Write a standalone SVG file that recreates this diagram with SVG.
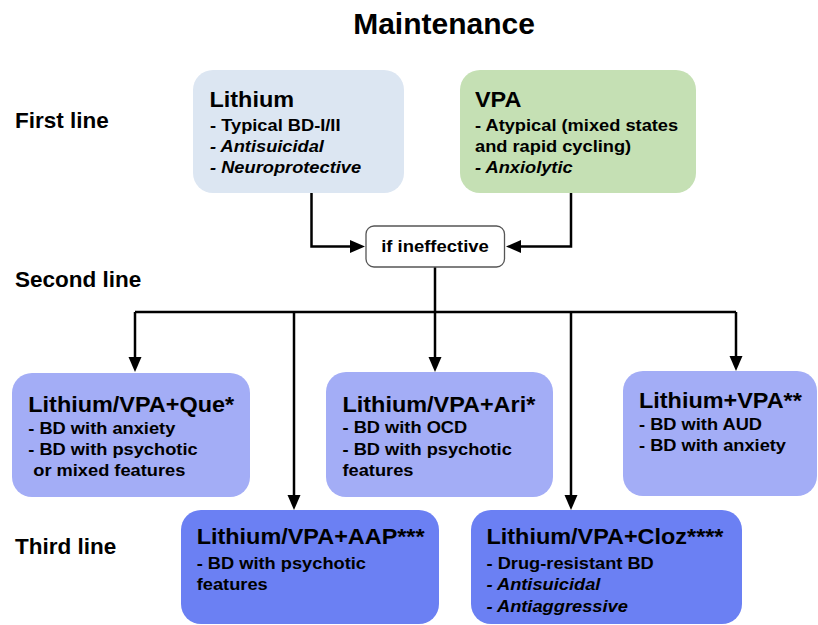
<svg xmlns="http://www.w3.org/2000/svg" width="818" height="625" viewBox="0 0 818 625">
<style>
text{font-family:"Liberation Sans",Arial,sans-serif;font-weight:bold;fill:#000}
.title{font-size:30px}
.side{font-size:22.5px}
.h{font-size:21.3px}
.b{font-size:16.6px}
.i{font-style:italic}
.conn{fill:none;stroke:#000;stroke-width:2.5}
.first1{fill:#dce6f2}
.first2{fill:#c5e0b4}
.second{fill:#a3adf6}
.third{fill:#6b80f3}
</style>
<defs>
<marker id="arr" markerUnits="userSpaceOnUse" markerWidth="16" markerHeight="14" refX="7" refY="6.5" orient="auto">
<path d="M0,0 L15,6.5 L0,13 Z" fill="#000"/>
</marker>
</defs>
<rect width="818" height="625" fill="#fff"/>
<text class="title" x="444" y="34" text-anchor="middle">Maintenance</text>
<g id="labels">
<text class="side" x="15" y="128">First line</text>
<text class="side" x="15" y="287">Second line</text>
<text class="side" x="15" y="554">Third line</text>
</g>
<g id="connectors">
<path class="conn" d="M311.5,193 V246.5 H357" marker-end="url(#arr)"/>
<path class="conn" d="M571,193 V246.5 H514" marker-end="url(#arr)"/>
<path class="conn" d="M435,267 V312"/>
<path class="conn" d="M135,312 H736"/>
<path class="conn" d="M135,312 V364" marker-end="url(#arr)"/>
<path class="conn" d="M294,312 V502" marker-end="url(#arr)"/>
<path class="conn" d="M435,312 V364" marker-end="url(#arr)"/>
<path class="conn" d="M571,312 V502" marker-end="url(#arr)"/>
<path class="conn" d="M736,312 V363" marker-end="url(#arr)"/>
</g>
<g id="lithium">
<rect class="first1" x="193" y="70" width="211" height="123" rx="20"/>
<g transform="translate(209.5,0) scale(1.1,1)">
<text class="h" x="0" y="107">Lithium</text>
<text class="b" x="0.5" y="131">- Typical BD-I/II</text>
<text class="b i" x="0.5" y="152">- Antisuicidal</text>
<text class="b i" x="0.5" y="173">- Neuroprotective</text>
</g>
</g>
<g id="vpa">
<rect class="first2" x="460" y="70" width="236" height="123" rx="20"/>
<g transform="translate(475,0) scale(1.1,1)">
<text class="h" x="0" y="107">VPA</text>
<text class="b" x="0" y="131">- Atypical (mixed states</text>
<text class="b" x="0" y="152">and rapid cycling)</text>
<text class="b i" x="0" y="173">- Anxiolytic</text>
</g>
</g>
<g id="ineffective">
<rect x="366" y="226" width="138.5" height="41" rx="8" fill="#fff" stroke="#555" stroke-width="1.3"/>
<g transform="translate(435,0) scale(1.1,1)">
<text x="0" y="252" text-anchor="middle" style="font-size:16.8px">if ineffective</text>
</g>
</g>
<g id="que">
<rect class="second" x="12" y="373" width="238" height="124" rx="20"/>
<g transform="translate(28.3,0) scale(1.1,1)">
<text class="h" x="0" y="412">Lithium/VPA+Que*</text>
<text class="b" x="0" y="434">- BD with anxiety</text>
<text class="b" x="0" y="455">- BD with psychotic</text>
<text class="b" x="4.5" y="476">or mixed features</text>
</g>
</g>
<g id="ari">
<rect class="second" x="326" y="372" width="227" height="125" rx="20"/>
<g transform="translate(342.5,0) scale(1.1,1)">
<text class="h" x="0" y="412">Lithium/VPA+Ari*</text>
<text class="b" x="0" y="433">- BD with OCD</text>
<text class="b" x="0" y="455">- BD with psychotic</text>
<text class="b" x="0" y="476">features</text>
</g>
</g>
<g id="livpa">
<rect class="second" x="623" y="371" width="194" height="125" rx="20"/>
<g transform="translate(639,0) scale(1.1,1)">
<text class="h" x="0" y="408">Lithium+VPA**</text>
<text class="b" x="0" y="430">- BD with AUD</text>
<text class="b" x="0" y="451">- BD with anxiety</text>
</g>
</g>
<g id="aap">
<rect class="third" x="181" y="510" width="258" height="114" rx="20"/>
<g transform="translate(196.7,0) scale(1.1,1)">
<text class="h" x="0" y="544">Lithium/VPA+AAP***</text>
<text class="b" x="0" y="569">- BD with psychotic</text>
<text class="b" x="0" y="590">features</text>
</g>
</g>
<g id="cloz">
<rect class="third" x="471" y="510" width="271" height="114" rx="20"/>
<g transform="translate(486.5,0) scale(1.1,1)">
<text class="h" x="0" y="544">Lithium/VPA+Cloz****</text>
<text class="b" x="0" y="569">- Drug-resistant BD</text>
<text class="b i" x="0" y="590">- Antisuicidal</text>
<text class="b i" x="0" y="612">- Antiaggressive</text>
</g>
</g>
</svg>
